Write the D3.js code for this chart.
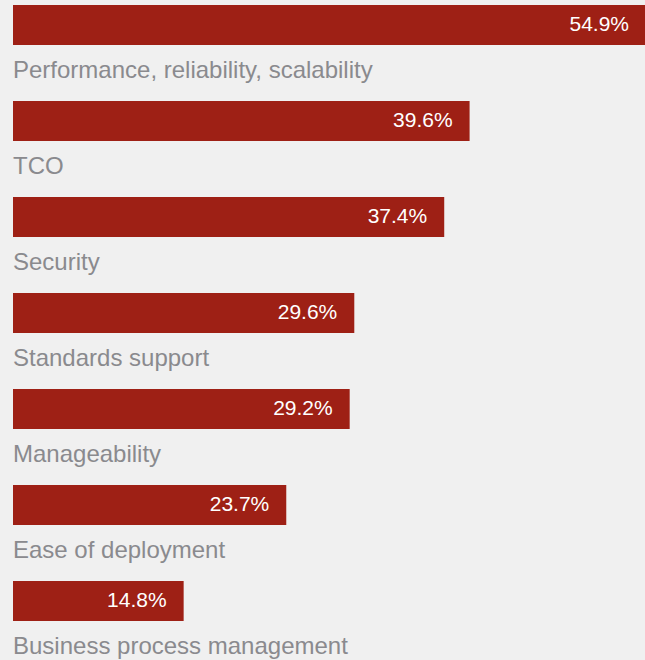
<!DOCTYPE html>
<html>
<head>
<meta charset="utf-8">
<script src="https://cdn.jsdelivr.net/npm/d3@7"></script>
<style>
  html, body { margin: 0; padding: 0; background: #f0f0f0; }
  #chart { width: 645px; height: 660px; overflow: hidden; }
</style>
</head>
<body>
<div id="chart"></div>
<script>
// categories and values (percent)
const categories = [
  'Performance, reliability, scalability',
  'TCO',
  'Security',
  'Standards support',
  'Manageability',
  'Ease of deployment',
  'Business process management'
];
const values = [54.9, 39.6, 37.4, 29.6, 29.2, 23.7, 14.8];

const width = 645;
const height = 660;
const rowStep = 96;
const barHeight = 40;

const data = categories.map((c, i) => ({ label: c, value: values[i] }));

const svg = d3.select('#chart')
  .append('svg')
    .attr('width', width)
    .attr('height', height);

// x scale: percent -> pixels
const x = d3.scaleLinear()
  .domain([0, 54.9])
  .range([13, 646]);

// y scale: one row per category
const y = d3.scaleBand()
  .domain(categories)
  .range([5, 5 + rowStep * categories.length]);

const rows = svg.selectAll('g.row')
  .data(data)
  .enter()
  .append('g')
    .attr('class', 'row')
    .attr('transform', d => 'translate(0,' + y(d.label) + ')');

// bars
rows.append('rect')
  .attr('x', x(0))
  .attr('y', 0)
  .attr('width', d => x(d.value) - x(0))
  .attr('height', barHeight)
  .style('fill', '#9e2015');

// value labels inside bar end
rows.append('text')
  .attr('x', d => x(d.value) - 17)
  .attr('y', 25.5)
  .attr('text-anchor', 'end')
  .style('font-family', '"Liberation Sans", Arial, sans-serif')
  .style('font-size', '21px')
  .style('fill', '#ffffff')
  .text(d => d.value.toFixed(1) + '%');

// category labels below bar
rows.append('text')
  .attr('x', 13)
  .attr('y', 73)
  .style('font-family', '"Liberation Sans", Arial, sans-serif')
  .style('font-size', '24px')
  .style('fill', '#8a8a8e')
  .text(d => d.label);
</script>
</body>
</html>
